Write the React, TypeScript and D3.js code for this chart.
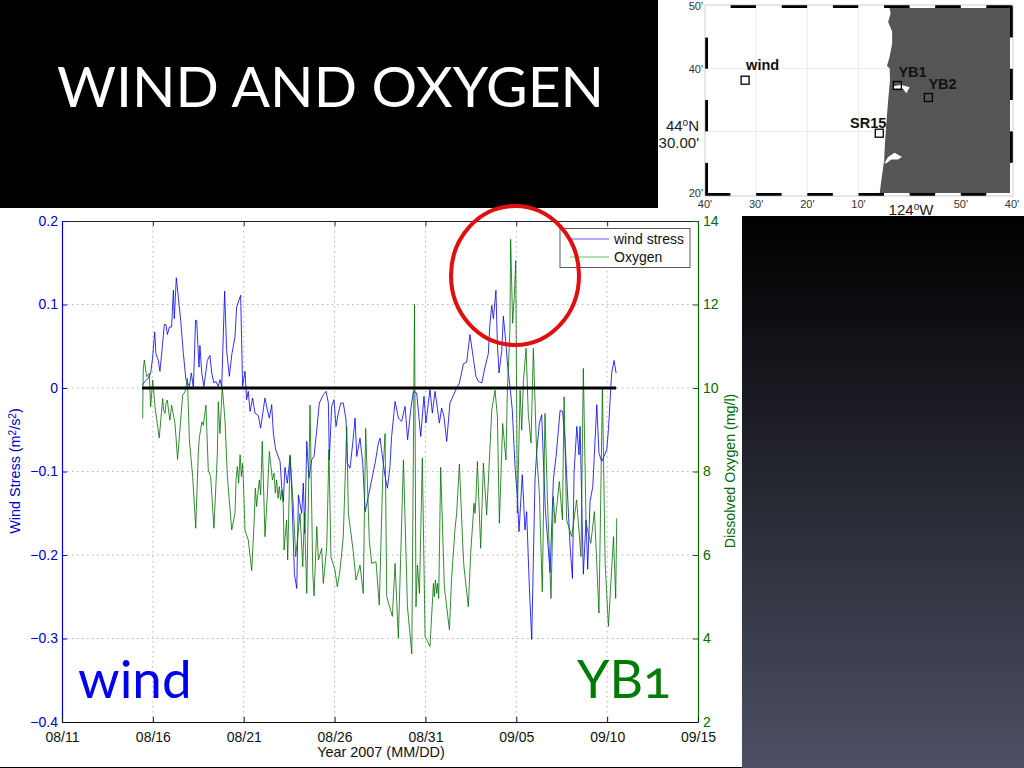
import React, { useEffect, useRef } from "react";
import * as d3 from "d3";

// days since 08/11/2007
const xTickDays = [0, 5, 10, 15, 20, 25, 30, 35];
const xTickLabels = ["08/11", "08/16", "08/21", "08/26", "08/31", "09/05", "09/10", "09/15"];
const stressTicks = [0.2, 0.1, 0, -0.1, -0.2, -0.3, -0.4];
const oxygenTicks = [14, 12, 10, 8, 6, 4, 2];

const windSeries: [number, number][] = [
  [4.44,.004],[4.57,.008],[4.75,.012],[4.88,.018],[4.99,.037],[5.10,.067],[5.17,.041],[5.30,.033],[5.39,.020],[5.52,.049],
  [5.63,.076],[5.72,.076],[5.80,.064],[5.91,.073],[6.03,.073],[6.13,.117],[6.18,.083],[6.29,.132],[6.40,.109],[6.53,.081],
  [6.68,.041],[6.82,.010],[7.01,.002],[7.12,.018],[7.23,0],[7.35,.081],[7.41,.081],[7.54,.025],[7.59,.051],[7.69,.018],
  [7.81,.002],[8.0,.033],[8.14,.039],[8.24,.018],[8.36,.006],[8.47,.008],[8.60,.002],[8.69,.010],[8.79,.002],[8.95,.116],
  [9.06,.045],[9.21,.014],[9.35,.041],[9.52,.061],[9.61,.097],[9.83,.111],[9.94,.002],[10.07,.020],[10.16,-.014],[10.25,-.004],
  [10.35,-.028],[10.49,-.012],[10.62,-.030],[10.80,-.033],[10.93,-.048],[11.17,-.012],[11.30,-.026],[11.41,-.036],[11.54,-.020],[11.63,-.054],
  [11.76,-.074],[12.0,-.088],[12.09,-.118],[12.18,-.136],[12.27,-.095],[12.40,-.114],[12.55,-.082],[12.64,-.122],[12.79,-.223],[12.92,-.240],
  [13.01,-.128],[13.19,-.150],[13.28,-.114],[13.36,-.174],[13.47,-.064],[13.59,-.108],[13.74,-.086],[13.87,-.082],[14.02,-.050],[14.16,-.018],
  [14.38,-.008],[14.53,-.004],[14.66,-.018],[14.71,-.086],[14.84,-.022],[14.97,-.014],[15.08,-.046],[15.21,-.030],[15.34,-.018],[15.48,-.018],
  [15.63,-.038],[15.70,-.090],[15.85,-.096],[16.0,-.066],[16.13,-.036],[16.22,-.082],[16.40,-.060],[16.55,-.090],[16.68,-.148],[16.86,-.130],
  [17.04,-.110],[17.23,-.090],[17.41,-.066],[17.50,-.060],[17.78,-.106],[17.91,-.120],[18.05,-.094],[18.14,-.058],[18.33,-.016],[18.51,-.036],
  [18.69,-.040],[18.88,-.022],[19.02,-.062],[19.19,-.026],[19.34,-.004],[19.52,-.006],[19.74,-.058],[19.92,-.010],[20.03,-.042],[20.16,-.018],
  [20.25,-.002],[20.38,-.030],[20.53,-.004],[20.77,-.042],[20.89,-.024],[21.02,-.034],[21.17,-.064],[21.35,-.018],[21.72,0],[21.87,.006],
  [22.09,.029],[22.27,.031],[22.45,.064],[22.64,.035],[22.78,.014],[22.91,.008],[23.10,.006],[23.28,.025],[23.46,.041],[23.55,.077],
  [23.65,.099],[23.74,.083],[23.88,.117],[23.96,.053],[24.05,.018],[24.20,.045],[24.29,.086],[24.43,.053],[24.53,.025],[24.65,.002],
  [24.78,-.026],[24.93,-.094],[25.06,-.130],[25.15,-.172],[25.33,-.104],[25.48,-.170],[25.57,-.148],[25.72,-.239],[25.85,-.301],[26.03,-.110],
  [26.12,-.078],[26.27,-.042],[26.40,-.032],[26.49,-.086],[26.60,-.146],[26.86,-.221],[27.04,-.110],[27.19,-.082],[27.41,-.027],[27.55,-.028],
  [27.68,-.062],[27.87,-.150],[27.96,-.189],[28.09,-.228],[28.18,-.102],[28.33,-.046],[28.45,-.080],[28.51,-.046],[28.69,-.223],[28.84,-.158],
  [28.93,-.217],[29.06,-.136],[29.21,-.118],[29.43,-.020],[29.55,-.078],[29.70,-.088],[29.98,-.074],[30.07,-.050],[30.20,0],[30.25,.018],
  [30.38,.033],[30.49,.018],
];

const oxygenSeries: [number, number][] = [
  [4.44,9.27],[4.47,10.43],[4.53,10.67],[4.66,10.27],[4.80,10.35],[4.88,9.55],[4.99,10.19],[5.12,9.55],[5.35,8.80],[5.54,9.75],
  [5.59,9.47],[5.67,9.39],[5.72,9.63],[5.80,9.71],[5.87,9.43],[5.94,9.23],[6.03,9.59],[6.22,9.15],[6.36,8.29],[6.53,9.23],[6.64,9.83],[6.77,9.91],[6.90,10.23],
  [7.01,8.76],[7.19,7.88],[7.36,6.64],[7.50,8.44],[7.56,8.83],[7.63,8.99],[7.70,9.19],[7.78,9.11],[7.85,9.35],[7.92,9.59],[8.05,8.04],[8.18,7.88],[8.36,6.64],
  [8.55,8.44],[8.60,9.67],[8.69,8.91],[8.82,10.03],[8.97,9.23],[9.10,7.88],[9.34,6.60],[9.52,7.00],[9.58,7.80],[9.65,8.12],[9.72,7.72],[9.80,8.40],[9.87,7.88],[9.94,8.20],
  [9.98,7.80],[10.07,6.60],[10.25,6.36],[10.44,5.63],[10.57,6.76],[10.64,7.60],[10.71,7.16],[10.80,7.56],[10.86,7.80],[10.93,7.44],[11.02,8.72],[11.17,6.44],[11.30,7.44],
  [11.41,8.48],[11.50,8.12],[11.58,7.80],[11.67,7.96],[11.74,7.48],[11.81,7.80],[11.89,7.36],[11.96,7.64],[12.03,7.32],[12.11,7.56],[12.18,7.16],[12.22,6.12],[12.36,6.84],[12.42,5.88],[12.55,8.40],
  [12.73,7.16],[12.86,5.96],[13.10,7.00],[13.25,5.72],[13.34,7.00],[13.47,5.08],[13.65,9.59],[13.80,5.56],[13.87,5.02],[14.02,6.68],
  [14.11,5.88],[14.29,6.16],[14.38,5.32],[14.57,6.20],[14.69,8.52],[14.80,5.96],[15.02,5.64],[15.15,5.24],[15.30,5.64],[15.48,6.44],
  [15.67,9.07],[15.76,7.00],[16.03,6.08],[16.18,5.40],[16.40,5.76],[16.58,5.08],[16.71,9.03],[16.91,6.36],[17.04,5.80],[17.28,5.84],
  [17.46,4.80],[17.65,7.88],[17.78,8.91],[17.87,5.00],[18.18,4.53],[18.33,5.80],[18.51,4.01],[18.79,8.28],[19.01,4.76],[19.25,3.63],
  [19.40,12.0],[19.48,4.76],[19.56,5.76],[19.67,5.08],[19.83,8.32],[19.98,4.05],[20.25,3.81],[20.44,5.32],[20.49,5.00],[20.55,5.40],[20.62,5.08],[20.67,5.32],[20.73,4.96],
  [20.84,8.10],[21.04,5.24],[21.32,4.21],[21.44,5.44],[21.63,6.64],[21.72,7.00],[21.87,8.18],[22.05,6.28],[22.12,5.72],[22.36,4.76],
  [22.49,6.04],[22.60,6.76],[22.67,7.24],[22.73,7.00],[22.78,7.36],[22.86,8.24],[23.04,6.16],[23.19,8.20],[23.37,6.96],[23.52,8.28],[23.65,9.47],[23.83,9.95],[23.96,9.31],
  [24.07,6.76],[24.25,9.15],[24.43,8.28],[24.51,9.95],[24.65,11.39],[24.69,13.56],[24.80,11.55],[24.89,12.19],[24.97,13.05],[25.06,7.00],
  [25.21,9.95],[25.30,8.99],[25.39,10.15],[25.54,10.95],[25.66,9.39],[25.81,8.68],[25.94,10.95],[26.12,8.44],[26.27,7.48],[26.43,5.12],
  [26.58,9.39],[26.71,7.40],[26.91,4.96],[27.04,7.40],[27.13,6.76],[27.37,7.76],[27.54,6.84],[27.63,9.79],[27.77,6.84],[28.05,6.44],
  [28.32,7.32],[28.56,5.96],[28.69,10.47],[28.84,6.76],[29.10,6.28],[29.30,7.04],[29.55,4.61],[29.74,9.99],[29.89,5.80],[30.07,4.29],
  [30.35,6.44],[30.47,4.96],[30.53,6.88],
];

const zeroLineDays = [4.4, 30.5];

// map data: longitude, latitude
const coastline: [number, number][] = [
  [-124.067,44.8333],[-124.062,44.814],[-124.070,44.791],[-124.057,44.765],[-124.057,44.734],[-124.065,44.699],[-124.074,44.674],
  [-124.065,44.667],[-124.064,44.636],[-124.070,44.583],[-124.076,44.521],[-124.081,44.459],[-124.083,44.424],[-124.092,44.371],[-124.098,44.3333],
];
const bayNorth: [number, number][] = [[-124.054,44.620],[-124.027,44.623],[-124.0,44.617],[-124.011,44.601],[-124.022,44.614],[-124.054,44.614]];
const bayAlsea: [number, number][] = [[-124.083,44.415],[-124.070,44.432],[-124.049,44.443],[-124.025,44.432],[-124.038,44.425],[-124.060,44.425],[-124.076,44.415]];
const stations = [
  { name: "wind", lon: -124.536, lat: 44.636, dx: 1, dy: -10, anchor: "start" },
  { name: "YB1", lon: -124.040, lat: 44.622, dx: 1, dy: -8, anchor: "start" },
  { name: "YB2", lon: -123.939, lat: 44.590, dx: 0, dy: -8, anchor: "start" },
  { name: "SR15", lon: -124.099, lat: 44.495, dx: 7, dy: -5, anchor: "end" },
];
const lonEdges = d3.range(0, 12).map((i) => -124 - 2 / 3 + i / 12);
const latEdges = d3.range(0, 6).map((i) => 44 + 1 / 3 + i / 12);
const lonTicks = [-124 - 2 / 3, -124.5, -124 - 1 / 3, -124 - 1 / 6, -124, -124 + 1 / 6, -124 + 1 / 3];
const lonLabels = ["40'", "30'", "20'", "10'", "", "50'", "40'"];
const oceanLonGrid = [-124.5, -124 - 1 / 3, -124 - 1 / 6];
const oceanLatGrid = [44 + 2 / 3, 44.5];
const latTicks = [44 + 5 / 6, 44 + 2 / 3, 44 + 1 / 3];
const latLabels = ["50'", "40'", "20'"];

const SANS = "'Liberation Sans', Arial, sans-serif";
const DISPLAY = "Lato, 'Open Sans', sans-serif";

const x = d3.scaleLinear().domain([0, 35]).range([62, 698]);
const yStress = d3.scaleLinear().domain([-0.4, 0.2]).range([722, 221]);
const yOxygen = d3.scaleLinear().domain([2, 14]).range([722, 221]);
const mapX = d3.scaleLinear().domain([-124 - 2 / 3, -123 - 2 / 3]).range([705, 1012]);
const mapY = d3.scaleLinear().domain([44 + 1 / 3, 44 + 5 / 6]).range([194, 6]);

const windLine = d3.line<[number, number]>().x((d) => x(d[0])).y((d) => yStress(d[1]));
const oxygenLine = d3.line<[number, number]>().x((d) => x(d[0])).y((d) => yOxygen(d[1]));
const geoLine = d3.line<[number, number]>().x((d) => mapX(d[0])).y((d) => mapY(d[1]));

export default function App() {
  const leftRef = useRef<SVGGElement>(null);
  const rightRef = useRef<SVGGElement>(null);
  const bottomRef = useRef<SVGGElement>(null);
  const topRef = useRef<SVGGElement>(null);

  useEffect(() => {
    const style = (g: any, color: string) => {
      g.selectAll("path").attr("stroke", color).attr("stroke-width", 1.2);
      g.selectAll("line").attr("stroke", color);
      g.selectAll("text").attr("fill", color).attr("font-family", SANS).attr("font-size", 14);
    };
    const left = d3.select(leftRef.current!);
    left.call(
      d3.axisLeft(yStress).tickValues(stressTicks).tickSizeInner(-5).tickSizeOuter(0).tickPadding(4)
        .tickFormat((d) => (+d === 0 ? "0" : d3.format(".1f")(+d).replace("-", "\u2212")))
    );
    style(left, "#0000cc");
    const right = d3.select(rightRef.current!);
    right.call(d3.axisRight(yOxygen).tickValues(oxygenTicks).tickSizeInner(-5).tickSizeOuter(0).tickPadding(5).tickFormat((d) => String(d)));
    style(right, "#006a00");
    const bottom = d3.select(bottomRef.current!);
    bottom.call(
      d3.axisBottom(x).tickValues(xTickDays).tickSizeInner(-5).tickSizeOuter(0).tickPadding(10)
        .tickFormat((_, i) => xTickLabels[i])
    );
    style(bottom, "#111");
    const top = d3.select(topRef.current!);
    top.call(d3.axisTop(x).tickValues(xTickDays).tickSizeInner(-5).tickSizeOuter(0).tickFormat(() => ""));
    style(top, "#222");
  }, []);

  return (
    <svg width={1024} height={768} viewBox="0 0 1024 768" style={{ position: "absolute", left: 0, top: 0, display: "block" }}>
      <defs>
        <linearGradient id="panel" x1="0" y1="0" x2="0" y2="1">
          <stop offset="0" stopColor="#000" />
          <stop offset="1" stopColor="#4d5064" />
        </linearGradient>
      </defs>
      <rect width={1024} height={768} fill="#000" />
      <rect x={742} y={216} width={282} height={552} fill="url(#panel)" />
      <rect x={0} y={208} width={742} height={559} fill="#fff" />
      <rect x={658} y={0} width={366} height={216} fill="#fff" />
      <text x={57} y={107} fill="#fff" fontFamily={DISPLAY} fontSize={57}>WIND AND OXYGEN</text>

      {/* map */}
      <g>
        <rect x={705} y={mapY.range()[1]} width={307} height={188} fill="#fff" />
        {oceanLonGrid.map((l) => (
          <line key={l} x1={mapX(l)} x2={mapX(l)} y1={6} y2={194} stroke="#e4e4e4" strokeWidth={0.7} />
        ))}
        {oceanLatGrid.map((l) => (
          <line key={l} x1={705} x2={mapX(-124.07)} y1={mapY(l)} y2={mapY(l)} stroke="#e4e4e4" strokeWidth={0.7} />
        ))}
        <path
          d={`${geoLine(coastline)}L${mapX(-123 - 2 / 3)},${mapY(44 + 1 / 3)}L${mapX(-123 - 2 / 3)},${mapY(44 + 5 / 6)}Z`}
          fill="#555"
        />
        <path d={`${geoLine(bayNorth)}Z`} fill="#fff" />
        <path d={`${geoLine(bayAlsea)}Z`} fill="#fff" />
        {lonEdges.map((l, i) => (
          <g key={l}>
            <rect x={mapX(l)} y={5} width={307 / 12} height={3} fill={i % 2 ? "#000" : "#fff"} />
            <rect x={mapX(l)} y={193} width={307 / 12} height={3} fill={i % 2 ? "#fff" : "#000"} />
          </g>
        ))}
        {latEdges.map((l, i) => (
          <g key={l}>
            <rect x={705} y={mapY(l + 1 / 12)} width={3} height={188 / 6} fill={i % 2 ? "#fff" : "#000"} />
            <rect x={1010} y={mapY(l + 1 / 12)} width={3} height={188 / 6} fill={i % 2 ? "#000" : "#fff"} />
          </g>
        ))}
        <rect x={705} y={5} width={308} height={191} fill="none" stroke="#aaa" strokeWidth={0.6} />
        {stations.map((s) => (
          <g key={s.name}>
            <rect x={mapX(s.lon) - 4} y={mapY(s.lat) - 4} width={8} height={8} fill="none" stroke="#000" strokeWidth={1.3} />
            <text x={mapX(s.lon) + s.dx} y={mapY(s.lat) + s.dy} textAnchor={s.anchor} fontFamily={SANS} fontWeight="bold" fontSize={14.5} fill="#111">{s.name}</text>
          </g>
        ))}
        {lonTicks.map((l, i) => (
          <text key={i} x={mapX(l)} y={208} textAnchor="middle" fontFamily={SANS} fontSize={11} fill="#333">{lonLabels[i]}</text>
        ))}
        {latTicks.map((l, i) => (
          <text key={i} x={703} y={mapY(l) + (i === 2 ? 3 : 4)} textAnchor="end" fontFamily={SANS} fontSize={11} fill="#333">{latLabels[i]}</text>
        ))}
        <text x={699} y={131} textAnchor="end" fontFamily={SANS} fontSize={15} fill="#222">44<tspan dy={-5} fontSize={10}>o</tspan><tspan dy={5}>N</tspan></text>
        <text x={699} y={148} textAnchor="end" fontFamily={SANS} fontSize={15} fill="#222">30.00'</text>
        <text x={911} y={215} textAnchor="middle" fontFamily={SANS} fontSize={15} fill="#222">124<tspan dy={-5} fontSize={10}>o</tspan><tspan dy={5}>W</tspan></text>
      </g>

      {/* grid */}
      <g stroke="#9090a4" strokeWidth={0.7} strokeDasharray="1.5 3.5">
        {xTickDays.slice(1, -1).map((d) => <line key={d} x1={x(d)} x2={x(d)} y1={221} y2={722} />)}
        {stressTicks.slice(1, -1).map((v) => <line key={v} x1={62} x2={698} y1={yStress(v)} y2={yStress(v)} />)}
      </g>

      <path d={windLine(windSeries) ?? ""} fill="none" stroke="#0000ee" strokeWidth={0.8} />
      <path d={oxygenLine(oxygenSeries) ?? ""} fill="none" stroke="#007000" strokeWidth={0.8} />
      <line x1={x(zeroLineDays[0])} x2={x(zeroLineDays[1])} y1={yStress(0)} y2={yStress(0)} stroke="#000" strokeWidth={3} />

      <g ref={topRef} transform="translate(0,221)" />
      <g ref={leftRef} transform="translate(62,0)" />
      <g ref={rightRef} transform="translate(698,0)" />
      <g ref={bottomRef} transform="translate(0,722)" />

      <text transform="translate(20,471) rotate(-90)" textAnchor="middle" fontFamily={SANS} fontSize={14.4} fill="#0000cc">
        Wind Stress (m<tspan dy={-4} fontSize={10}>2</tspan><tspan dy={4}>/s</tspan><tspan dy={-4} fontSize={10}>2</tspan><tspan dy={4}>)</tspan>
      </text>
      <text transform="translate(735,471) rotate(-90)" textAnchor="middle" fontFamily={SANS} fontSize={14.2} fill="#006a00">Dissolved Oxygen (mg/l)</text>
      <text x={381} y={757} textAnchor="middle" fontFamily={SANS} fontSize={14.4} fill="#111">Year 2007 (MM/DD)</text>

      {/* legend */}
      <rect x={560} y={228.5} width={130} height={39} fill="#fff" stroke="#333" strokeWidth={0.8} />
      <line x1={570} x2={609} y1={239} y2={239} stroke="#3333ee" strokeWidth={0.8} />
      <line x1={570} x2={609} y1={257} y2={257} stroke="#33bb33" strokeWidth={0.8} />
      <text x={614} y={244} fontFamily={SANS} fontSize={14} fill="#111">wind stress</text>
      <text x={614} y={262} fontFamily={SANS} fontSize={14} fill="#111">Oxygen</text>

      <ellipse cx={515} cy={275.5} rx={64} ry={69.5} fill="none" stroke="#e01010" strokeWidth={4} />

      <text x={78} y={698} fontFamily={DISPLAY} fontSize={53} fill="#0000ee">wind</text>
      <text x={577} y={698} fontFamily={DISPLAY} fontSize={52} fill="#007a00" style={{ fontFeatureSettings: '"onum"' }}>YB1</text>
    </svg>
  );
}
